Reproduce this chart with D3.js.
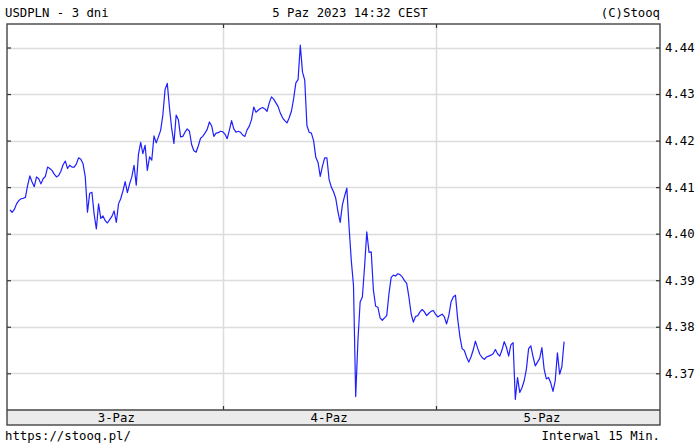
<!DOCTYPE html>
<html><head><meta charset="utf-8">
<script src="https://cdn.jsdelivr.net/npm/d3@7"></script>
<style>
html,body{margin:0;padding:0;background:#fff;}
svg{display:block;}
text{font-family:"DejaVu Sans Mono",monospace;font-size:12.3px;fill:#000;}
</style></head>
<body>
<script>
const title = "USDPLN - 3 dni";
const stamp = "5 Paz 2023 14:32 CEST";
const credit = "(C)Stooq";
const footerLeft = "https://stooq.pl/";
const footerRight = "Interwal 15 Min.";
const dayLabels = ["3-Paz", "4-Paz", "5-Paz"];
const yTicks = [4.37, 4.38, 4.39, 4.40, 4.41, 4.42, 4.43, 4.44];
// 15-minute closes, starting 3-Paz 00:00
const values = [
4.4051,4.4046,4.4052,4.4064,4.4071,4.4075,4.4076,4.4078,4.4104,4.4124,
4.4111,4.4101,4.4122,4.4118,4.4107,4.4118,4.4123,4.4143,4.4140,4.4136,
4.4128,4.4122,4.4125,4.4134,4.4148,4.4156,4.4140,4.4147,4.4143,4.4143,
4.4150,4.4163,4.4160,4.4150,4.4122,4.4046,4.4087,4.4089,4.4042,4.4010,
4.4064,4.4033,4.4038,4.4028,4.4023,4.4030,4.4037,4.4049,4.4024,4.4064,
4.4075,4.4092,4.4112,4.4088,4.4107,4.4122,4.4147,4.4104,4.4171,4.4196,
4.4172,4.4190,4.4136,4.4165,4.4158,4.4210,4.4195,4.4208,4.4222,4.4255,
4.4310,4.4323,4.4270,4.4225,4.4194,4.4255,4.4245,4.4208,4.4209,4.4218,
4.4225,4.4220,4.4191,4.4178,4.4175,4.4189,4.4205,4.4209,4.4216,4.4224,
4.4240,4.4232,4.4209,4.4216,4.4217,4.4220,4.4219,4.4214,4.4204,4.4222,
4.4243,4.4225,4.4218,4.4220,4.4218,4.4212,4.4209,4.4223,4.4231,4.4245,
4.4272,4.4261,4.4265,4.4269,4.4271,4.4268,4.4263,4.4281,4.4294,4.4289,
4.4281,4.4273,4.4259,4.4249,4.4243,4.4238,4.4249,4.4263,4.4290,4.4324,
4.4331,4.4405,4.4347,4.4330,4.4232,4.4218,4.4216,4.4200,4.4164,4.4153,
4.4123,4.4145,4.4163,4.4163,4.4116,4.4100,4.4090,4.4076,4.4047,4.4024,
4.4062,4.4081,4.4098,4.4015,4.3943,4.3889,4.3650,4.3770,4.3853,4.3864,
4.3929,4.4004,4.3960,4.3961,4.3878,4.3844,4.3842,4.3819,4.3814,4.3819,
4.3824,4.3871,4.3906,4.3911,4.3909,4.3914,4.3912,4.3907,4.3899,4.3893,
4.3864,4.3828,4.3810,4.3822,4.3824,4.3832,4.3837,4.3832,4.3824,4.3829,
4.3833,4.3835,4.3827,4.3821,4.3824,4.3827,4.3821,4.3806,4.3824,4.3853,
4.3864,4.3868,4.3817,4.3779,4.3753,4.3749,4.3735,4.3724,4.3735,4.3750,
4.3769,4.3754,4.3741,4.3734,4.3730,4.3735,4.3737,4.3739,4.3742,4.3751,
4.3742,4.3737,4.3750,4.3768,4.3756,4.3737,4.3761,4.3766,4.3644,4.3691,
4.3659,4.3669,4.3684,4.3709,4.3753,4.3759,4.3736,4.3716,4.3724,4.3732,
4.3755,4.3709,4.3688,4.3691,4.3679,4.3661,4.3684,4.3744,4.3698,4.3714,4.3768
];
const slotsPerDay = 96;

const W = 697, H = 445;
const L = 7, R = 660, T = 24, B = 410, BB = 425;

const svg = d3.select("body").append("svg").attr("width", W).attr("height", H);

const x = d3.scaleLinear().domain([0, 288]).range([9.9, 9.9 + 288 * 2.2167]);
const y = d3.scaleLinear().domain([4.37, 4.44]).range([373.3, 47.5]);

// band
svg.append("rect").attr("x", L).attr("y", B).attr("width", R - L).attr("height", BB - B)
  .attr("fill", "#ebebeb");

// horizontal gridlines
svg.append("g").selectAll("line").data(yTicks).join("line")
  .attr("x1", L).attr("x2", R)
  .attr("y1", d => Math.round(y(d)) + 0.5).attr("y2", d => Math.round(y(d)) + 0.5)
  .attr("stroke", "#dcdcdc").attr("stroke-width", 1.5);

// vertical day gridlines
const bounds = [1, 2].map(k => k * slotsPerDay);
svg.append("g").selectAll("line").data(bounds).join("line")
  .attr("x1", d => Math.round(x(d)) + 0.5).attr("x2", d => Math.round(x(d)) + 0.5)
  .attr("y1", T).attr("y2", B)
  .attr("stroke", "#dcdcdc").attr("stroke-width", 1.5);

// line
const line = d3.line().x((d, i) => x(i)).y(d => y(d));
svg.append("path").datum(values).attr("d", line)
  .attr("fill", "none").attr("stroke", "#1f1fff").attr("stroke-width", 1.2)
  .attr("stroke-linejoin", "round");

// right axis with inward ticks
const yAxis = d3.axisRight(y).tickValues(yTicks).tickFormat(d3.format(".2f"))
  .tickSizeInner(-4).tickSizeOuter(0).tickPadding(5);
const ga = svg.append("g").attr("transform", `translate(${R},0)`).call(yAxis);
ga.select(".domain").remove();
ga.selectAll("line").attr("stroke", "#333").attr("stroke-width", 1.2);
ga.selectAll("text").attr("font-family", "DejaVu Sans Mono, monospace").attr("font-size", "12.3px").attr("fill", "#000");

// left inward ticks
const yAxisL = d3.axisLeft(y).tickValues(yTicks).tickFormat("").tickSizeInner(-4).tickSizeOuter(0);
const gl = svg.append("g").attr("transform", `translate(${L},0)`).call(yAxisL);
gl.select(".domain").remove();
gl.selectAll("line").attr("stroke", "#333").attr("stroke-width", 1.2);

// day ticks (top and above band)
svg.append("g").selectAll("line").data(bounds).join("line")
  .attr("x1", d => Math.round(x(d)) + 0.5).attr("x2", d => Math.round(x(d)) + 0.5)
  .attr("y1", T).attr("y2", T + 4).attr("stroke", "#333").attr("stroke-width", 1.2);
svg.append("g").selectAll("line").data(bounds).join("line")
  .attr("x1", d => Math.round(x(d)) + 0.5).attr("x2", d => Math.round(x(d)) + 0.5)
  .attr("y1", B - 4).attr("y2", B).attr("stroke", "#333").attr("stroke-width", 1.2);

// frame
svg.append("rect").attr("x", L).attr("y", T).attr("width", R - L).attr("height", BB - T)
  .attr("fill", "none").attr("stroke", "#444").attr("stroke-width", 1.4);
svg.append("line").attr("x1", L).attr("x2", R).attr("y1", B).attr("y2", B)
  .attr("stroke", "#444").attr("stroke-width", 1.4);

// day labels
svg.append("g").selectAll("text").data(dayLabels).join("text")
  .attr("x", (d, i) => x(i * slotsPerDay + slotsPerDay / 2))
  .attr("y", 422).attr("text-anchor", "middle").text(d => d);

// header / footer
svg.append("text").attr("x", 5).attr("y", 17).text(title);
svg.append("text").attr("x", 350).attr("y", 17).attr("text-anchor", "middle").text(stamp);
svg.append("text").attr("x", 660).attr("y", 17).attr("text-anchor", "end").text(credit);
svg.append("text").attr("x", 5).attr("y", 440).text(footerLeft);
svg.append("text").attr("x", 660).attr("y", 440).attr("text-anchor", "end").text(footerRight);
</script>
</body></html>
